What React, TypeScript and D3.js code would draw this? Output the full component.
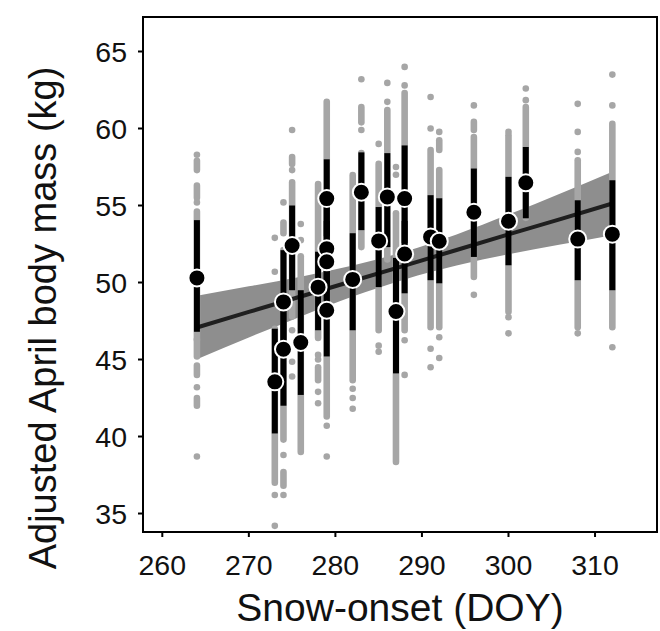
import React from "react";
import * as d3 from "d3";

// Yearly means: snow-onset day, mean mass, and bar extents (low / high)
const meanX = [264, 273, 274, 274, 275, 276, 278, 279, 279, 279, 279, 282, 283, 285, 286, 287, 288, 288, 291, 292, 296, 300, 302, 308, 312];
const meanY = [50.3, 43.55, 48.74, 45.67, 52.4, 46.1, 49.7, 55.45, 52.2, 51.35, 48.2, 50.2, 55.86, 52.7, 55.56, 48.12, 55.45, 51.85, 52.96, 52.68, 54.56, 53.98, 56.48, 52.82, 53.14];
const barLow = [46.8, 40.2, 45.5, 42.0, 49.5, 42.7, 46.9, 53.0, 49.5, 48.5, 45.2, 46.9, 53.4, 49.7, 52.3, 44.1, 52.55, 49.3, 50.15, 49.95, 51.66, 51.12, 54.17, 50.15, 49.5];
const barHigh = [54.05, 47.0, 52.1, 49.3, 55.0, 49.5, 52.0, 58.0, 55.0, 54.0, 51.3, 53.2, 58.45, 54.9, 58.4, 51.6, 58.9, 54.0, 55.67, 55.47, 57.4, 56.86, 58.8, 55.34, 56.64];

// Individual observations per snow-onset day: dense runs [low, high] and isolated values
const obsX = [264, 273, 274, 275, 276, 278, 279, 282, 283, 285, 286, 287, 288, 291, 292, 296, 300, 302, 308, 312];
const obsRuns: [number, number][][] = [
  [[55.5, 56.3], [46.3, 54.6], [45.2, 46.3], [44.0, 44.6], [42.0, 42.5], [57.3, 57.9]],
  [[37.0, 47.0]],
  [[53.2, 53.9], [39.8, 52.1], [36.8, 37.7]],
  [[57.7, 58.15], [47.8, 56.5]],
  [[39.0, 51.7]],
  [[46.4, 56.4], [43.65, 44.5]],
  [[41.3, 61.73]],
  [[43.65, 56.97]],
  [[60.4, 61.4], [52.3, 58.4]],
  [[46.9, 57.7]],
  [[58.6, 61.2], [51.5, 58.4]],
  [[38.35, 54.5]],
  [[46.9, 62.3]],
  [[47.1, 58.6]],
  [[58.6, 59.24], [47.1, 57.3]],
  [[50.36, 59.45], [59.9, 60.43]],
  [[48.1, 59.56]],
  [[54.2, 61.4]],
  [[47.1, 57.94]],
  [[47.1, 60.3]],
];
const obsDots: number[][] = [
  [58.3, 55.2, 43.2, 38.7],
  [52.9, 50.7, 36.2, 34.2],
  [55.2, 38.8, 36.2],
  [59.9, 57.3, 46.9, 44.85, 43.9],
  [53.8, 52.75],
  [45.3, 45.0, 42.9, 42.16],
  [40.7, 38.7],
  [43.1, 42.5, 41.8],
  [63.2, 59.9],
  [59.0, 45.9, 45.5],
  [62.96, 61.73],
  [57.5, 57.0],
  [64.0, 62.8, 46.25, 44.0],
  [62.05, 60.0, 45.7, 44.5],
  [59.78, 46.45, 45.1],
  [61.5, 49.2],
  [59.78, 47.75, 46.7],
  [62.6, 61.84],
  [61.6, 59.78, 58.48, 46.7],
  [63.5, 61.5, 45.8],
];

// Fitted regression line and confidence band
const fitX = [264, 270, 276, 282, 288, 294, 300, 306, 312];
const fitY = [47.08, 48.09, 49.09, 50.1, 51.1, 52.11, 53.12, 54.12, 55.13];
const fitLo = [45.02, 46.43, 47.8, 49.09, 50.2, 51.1, 51.83, 52.46, 53.07];
const fitHi = [49.14, 49.75, 50.38, 51.11, 52.0, 53.12, 54.41, 55.78, 57.19];

const xTicks = [260, 270, 280, 290, 300, 310];
const yTicks = [35, 40, 45, 50, 55, 60, 65];

const W = 660, H = 631;
const L = 143, R = 657, T = 17, B = 532;
const FONT = "'Liberation Sans', Arial, sans-serif";

export default function App() {
  const x = d3.scaleLinear().domain([257.77, 317.16]).range([L, R]);
  const y = d3.scaleLinear().domain([33.8, 67.24]).range([B, T]);

  const area = d3.area<number>()
    .x((_, i) => x(fitX[i]))
    .y0((_, i) => y(fitLo[i]))
    .y1((_, i) => y(fitHi[i]))
    .curve(d3.curveMonotoneX);
  const line = d3.line<number>()
    .x((_, i) => x(fitX[i]))
    .y((d) => y(d));

  const grey = "#a6a6a6";

  return (
    <svg width={W} height={H} style={{ position: "absolute", left: 0, top: 0, background: "#fff" }}>
      <defs>
        <clipPath id="plotClip">
          <rect x={L} y={T} width={R - L} height={B - T} />
        </clipPath>
      </defs>
      <g clipPath="url(#plotClip)">
        <path d={area(fitX) || ""} fill="#8e8e8e" />
        {obsX.map((cx, i) => (
          <g key={"o" + i}>
            {obsRuns[i].map((r, j) => (
              <line key={j} x1={x(cx)} x2={x(cx)} y1={y(r[0])} y2={y(r[1])}
                stroke={grey} strokeWidth={6.6} strokeLinecap="round" />
            ))}
            {obsDots[i].map((v, j) => (
              <circle key={"d" + j} cx={x(cx)} cy={y(v)} r={3.3} fill={grey} />
            ))}
          </g>
        ))}
        <path d={line(fitY) || ""} fill="none" stroke="#1f1f1f" strokeWidth={4} />
        {meanX.map((cx, i) => (
          <line key={"b" + i} x1={x(cx)} x2={x(cx)} y1={y(barLow[i])} y2={y(barHigh[i])}
            stroke="#000" strokeWidth={6} />
        ))}
        {meanX.map((cx, i) => (
          <circle key={"m" + i} cx={x(cx)} cy={y(meanY[i])} r={8.5} fill="#000" stroke="#fff" strokeWidth={2} />
        ))}
      </g>
      <rect x={L} y={T} width={R - L} height={B - T} fill="none" stroke="#000" strokeWidth={2} />
      {xTicks.map((t) => (
        <g key={"xt" + t}>
          <line x1={x(t)} x2={x(t)} y1={B} y2={B + 5} stroke="#000" strokeWidth={2} />
          <text x={x(t)} y={575} textAnchor="middle" fontFamily={FONT} fontSize={28.5} fill="#111">{t}</text>
        </g>
      ))}
      {yTicks.map((t) => (
        <g key={"yt" + t}>
          <line x1={L - 5} x2={L} y1={y(t)} y2={y(t)} stroke="#000" strokeWidth={2} />
          <text x={127} y={y(t)} dy="0.36em" textAnchor="end" fontFamily={FONT} fontSize={28.5} fill="#111">{t}</text>
        </g>
      ))}
      <text x={400} y={621} textAnchor="middle" fontFamily={FONT} fontSize={39} fill="#111">Snow-onset (DOY)</text>
      <text transform={`translate(56, 318) rotate(-90)`} textAnchor="middle" fontFamily={FONT} fontSize={38} fill="#111">Adjusted April body mass (kg)</text>
    </svg>
  );
}
